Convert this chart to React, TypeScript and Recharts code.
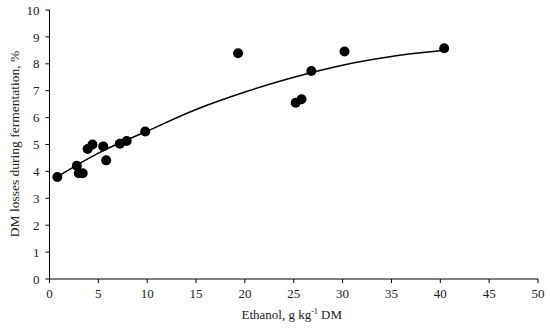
import { ComposedChart, Scatter, Line, XAxis, YAxis } from 'recharts';

// observed samples
const ethanol = [0.8, 2.8, 3.0, 3.4, 3.9, 4.4, 5.5, 5.8, 7.2, 7.9, 9.8, 19.3, 25.2, 25.8, 26.8, 30.2, 40.4];
const dmLoss = [3.79, 4.21, 3.93, 3.93, 4.83, 5.0, 4.93, 4.41, 5.03, 5.13, 5.48, 8.39, 6.55, 6.68, 7.73, 8.46, 8.58];

// fitted trend line
const trendX = [0.8, 5, 10, 15, 20, 25, 30, 35, 40.4];
const trendY = [3.8, 4.68, 5.5, 6.3, 6.95, 7.5, 7.95, 8.27, 8.5];

const xTicks = [0, 5, 10, 15, 20, 25, 30, 35, 40, 45, 50];
const yTicks = [0, 1, 2, 3, 4, 5, 6, 7, 8, 9, 10];

const points = ethanol.map((x, i) => ({ x, y: dmLoss[i] }));
const trend = trendX.map((x, i) => ({ x, fit: trendY[i] }));

const font = '"Liberation Serif", "DejaVu Serif", serif';

const XLabel = ({ viewBox }: any) => {
  const cx = viewBox.x + viewBox.width / 2;
  return (
    <text x={cx - 2} y={319} textAnchor="middle" fontFamily={font} fontSize={13} fill="#222">
      Ethanol, g kg<tspan dy={-5} fontSize={8}>-1</tspan><tspan dy={5}> DM</tspan>
    </text>
  );
};

const YLabel = () => (
  <text x={0} y={0} transform="translate(19,144) rotate(-90)" textAnchor="middle" fontFamily={font} fontSize={13.5} fill="#222">
    DM losses during fermentation, %
  </text>
);

export default function App() {
  return (
    <div style={{ position: 'absolute', left: 0, top: 0, background: '#fff' }}>
      <ComposedChart width={550} height={328} margin={{ top: 10, right: 12, bottom: 0, left: 0 }}>
        <XAxis
          type="number"
          dataKey="x"
          domain={[0, 50]}
          ticks={xTicks}
          height={49}
          stroke="#000"
          tickSize={4}
          tickMargin={6}
          tick={{ fontFamily: font, fontSize: 13, fill: '#222' }}
          label={<XLabel />}
          allowDuplicatedCategory={false}
        />
        <YAxis
          type="number"
          domain={[0, 10]}
          ticks={yTicks}
          width={49.5}
          stroke="#000"
          tickSize={4}
          tickMargin={6}
          tick={{ fontFamily: font, fontSize: 13, fill: '#222' }}
          label={<YLabel />}
        />
        <Line
          data={trend}
          dataKey="fit"
          type="monotone"
          stroke="#000"
          strokeWidth={1.5}
          dot={false}
          isAnimationActive={false}
        />
        <Scatter
          data={points}
          dataKey="y"
          fill="#000"
          shape={(p: any) => <circle cx={p.cx} cy={p.cy} r={5} fill="#000" />}
          isAnimationActive={false}
        />
      </ComposedChart>
    </div>
  );
}
